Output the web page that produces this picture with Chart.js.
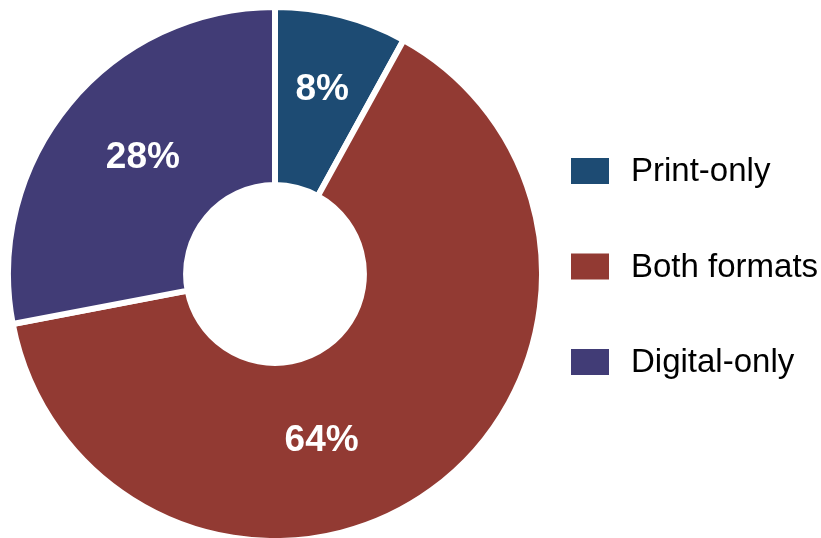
<!DOCTYPE html>
<html>
<head>
<meta charset="utf-8">
<script src="https://cdn.jsdelivr.net/npm/chart.js@4/dist/chart.umd.min.js"></script>
<style>
  html, body { margin: 0; padding: 0; background: #fff; }
  #wrap { width: 821px; height: 538px; }
</style>
</head>
<body>
<div id="wrap"><canvas id="formatChart"></canvas></div>
<script>
let formatLabels = ["Print-only", "Both formats", "Digital-only"];
let formatShares = [8, 64, 28];
let formatColors = ["#1d4b73", "#923a33", "#413c76"];

const fontFamily = "'Liberation Sans', Arial, sans-serif";

// nudges from each slice's centre to where its label sits
const labelNudges = [[3, -12], [-58, 23], [5, -3]];

// White percentage labels inside each slice
const sliceLabels = {
    id: "sliceLabels",
    afterDatasetsDraw(chart) {
        const ctx = chart.ctx;
        const meta = chart.getDatasetMeta(0);
        ctx.save();
        ctx.fillStyle = "#ffffff";
        ctx.font = "bold 37px " + fontFamily;
        ctx.textAlign = "center";
        ctx.textBaseline = "middle";
        meta.data.forEach((arc, i) => {
            const pos = arc.tooltipPosition();
            const nudge = labelNudges[i];
            ctx.fillText(chart.data.datasets[0].data[i] + "%", pos.x + nudge[0], pos.y + nudge[1]);
        });
        ctx.restore();
    }
};

// Legend drawn to the right of the ring
const sideLegend = {
    id: "sideLegend",
    afterDraw(chart) {
        const ctx = chart.ctx;
        const boxX = 571, boxW = 38, boxH = 26;
        const firstY = 171, rowGap = 95.5;
        ctx.save();
        ctx.font = "33px " + fontFamily;
        ctx.textAlign = "left";
        ctx.textBaseline = "middle";
        chart.data.labels.forEach((label, i) => {
            const y = firstY + i * rowGap;
            ctx.fillStyle = chart.data.datasets[0].backgroundColor[i];
            ctx.fillRect(boxX, y - boxH / 2, boxW, boxH);
            ctx.fillStyle = "#000000";
            ctx.fillText(label, 631, y + 1);
        });
        ctx.restore();
    }
};

new Chart(document.getElementById("formatChart"), {
    type: "doughnut",
    data: {
        labels: formatLabels,
        datasets: [{
            data: formatShares,
            backgroundColor: formatColors,
            borderColor: "#ffffff",
            borderWidth: 6,
            hoverOffset: 0
        }]
    },
    options: {
        responsive: true,
        maintainAspectRatio: false,
        animation: false,
        cutout: "33.3%",
        radius: "102.3%",
        layout: {
            padding: { left: 11, top: 10, right: 282, bottom: 0 }
        },
        plugins: {
            legend: { display: false },
            tooltip: { enabled: false }
        }
    },
    plugins: [sliceLabels, sideLegend]
});
</script>
</body>
</html>
